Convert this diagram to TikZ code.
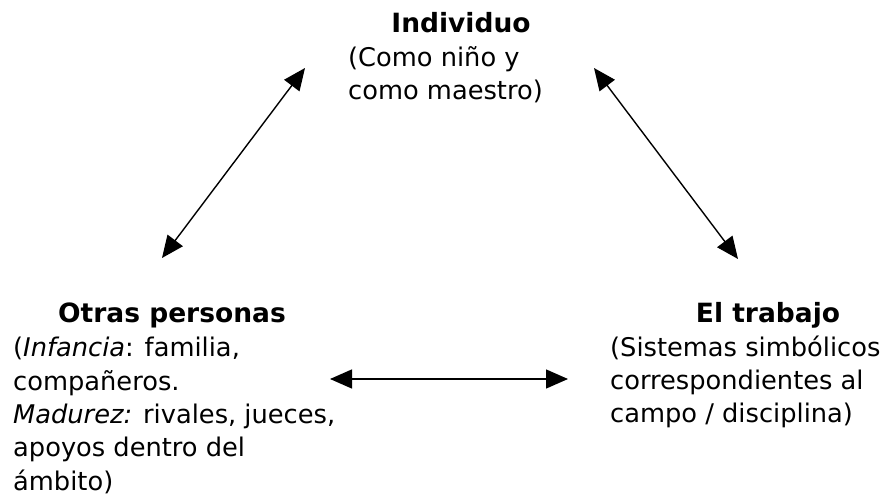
\documentclass[tikz,border=0pt]{standalone}
\usepackage{fontspec}
\setmainfont{DejaVu Sans}
\usetikzlibrary{arrows.meta}

\begin{document}
\begin{tikzpicture}[x=1pt, y=-1pt,
        font=\fontsize{25.7}{33.3}\selectfont,
        titulo/.style={font=\fontsize{26.5}{33}\selectfont\bfseries, inner sep=0, anchor=base},
        cuerpo/.style={align=left, inner sep=0, anchor=base west},
        flecha/.style={{Triangle[length=22pt,width=19pt]}-{Triangle[length=22pt,width=19pt]}, line width=1.4pt}]
        \useasboundingbox (0, 0) rectangle (884, 502);

        % texto (el ancla base es la linea de abajo)
        \node[titulo] at (461, 33)   (ind) {Individuo};
        \node[cuerpo] at (348, 100)  (ind_t) {(Como niño y\\como maestro)};

        \node[titulo] at (172, 323)  (otras) {Otras personas};
        \node[cuerpo] at (13, 490)   (otras_t) {(\textit{Infancia}: familia,\\compañeros.\\\textit{Madurez:} rivales, jueces,\\apoyos dentro del\\ámbito)};

        \node[titulo] at (768, 323)  (trab) {El trabajo};
        \node[cuerpo] at (610, 423)  (trab_t) {(Sistemas simbólicos\\correspondientes al\\campo / disciplina)};

        % puntas de las flechas
        \coordinate (ind_l) at (305, 68);
        \coordinate (ind_r) at (594, 68);
        \coordinate (otras_a) at (162, 258);
        \coordinate (otras_b) at (330, 379);
        \coordinate (trab_a) at (738, 259);
        \coordinate (trab_b) at (568, 379);

        \draw [flecha] (otras_a) -- (ind_l);
        \draw [flecha] (ind_r) -- (trab_a);
        \draw [flecha] (otras_b) -- (trab_b);
    \end{tikzpicture}
\end{document}
